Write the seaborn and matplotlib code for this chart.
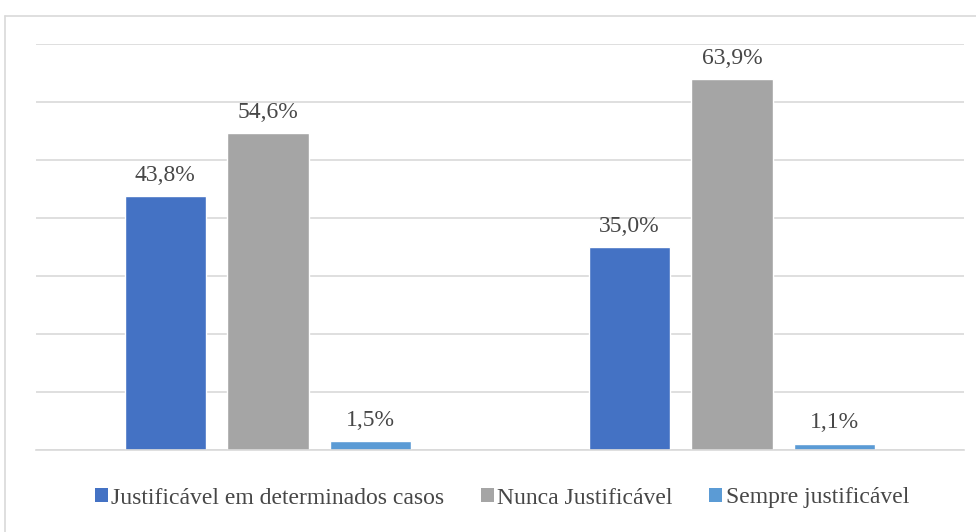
import pandas as pd
import matplotlib.pyplot as plt
import seaborn as sns
from matplotlib.lines import Line2D

grupos = ["Grupo 1", "Grupo 2"]
respostas = ["Justificável em determinados casos", "Nunca Justificável", "Sempre justificável"]
valores_g1 = [43.8, 54.6, 1.5]
valores_g2 = [35.0, 63.9, 1.1]
cores = ["#4472C4", "#A5A5A5", "#5B9BD5"]

df = pd.DataFrame({
    "Grupo": [grupos[0]] * 3 + [grupos[1]] * 3,
    "Resposta": respostas * 2,
    "Valor": valores_g1 + valores_g2,
})

sns.set_theme(style="white")
plt.rcParams['font.family'] = ['Liberation Serif', 'DejaVu Serif']
fonte = "Liberation Serif"
cor_texto = "#474747"

fig = plt.figure(figsize=(9.76, 5.32), dpi=100)
ax = fig.add_axes([36 / 976, 82 / 532, 928 / 976, 406 / 532])

sns.barplot(data=df, x="Grupo", y="Valor", hue="Resposta", palette=cores,
            width=0.664, gap=0.21, saturation=1, ax=ax, legend=True)

for cont in ax.containers:
    ax.bar_label(cont, labels=[f"{v:.1f}%".replace(".", ",") for v in cont.datavalues],
                 padding=7.5, fontsize=17, color=cor_texto, family=fonte)

ax.set_ylim(0, 70)
ax.set_xlim(-0.5, 1.5)
ax.set_yticks(range(0, 71, 10))
ax.yaxis.grid(True, color="#D9D9D9", linewidth=1.2)
ax.set_axisbelow(True)
ax.set_yticklabels([])
ax.set_xticklabels([])
ax.tick_params(length=0)
ax.set_xlabel("")
ax.set_ylabel("")
for s in ["top", "right", "left"]:
    ax.spines[s].set_visible(False)
ax.spines["bottom"].set_color("#D9D9D9")
ax.spines["bottom"].set_linewidth(1.2)

leg = ax.legend(loc="center", bbox_to_anchor=(502 / 976, 34 / 532), bbox_transform=fig.transFigure,
                ncol=3, frameon=False, prop={"family": fonte, "size": 17},
                handlelength=0.55, handleheight=0.55, handletextpad=0.15, columnspacing=1.55)
for t in leg.get_texts():
    t.set_color(cor_texto)
for h in leg.legend_handles:
    h.set_edgecolor("none")

# moldura do gráfico
fig.add_artist(Line2D([5 / 976, 1], [1 - 16 / 532, 1 - 16 / 532], transform=fig.transFigure,
                      color="#D9D9D9", linewidth=1.2))
fig.add_artist(Line2D([5 / 976, 5 / 976], [0, 1 - 16 / 532], transform=fig.transFigure,
                      color="#D9D9D9", linewidth=1.2))

plt.savefig("out.png", dpi=100)
